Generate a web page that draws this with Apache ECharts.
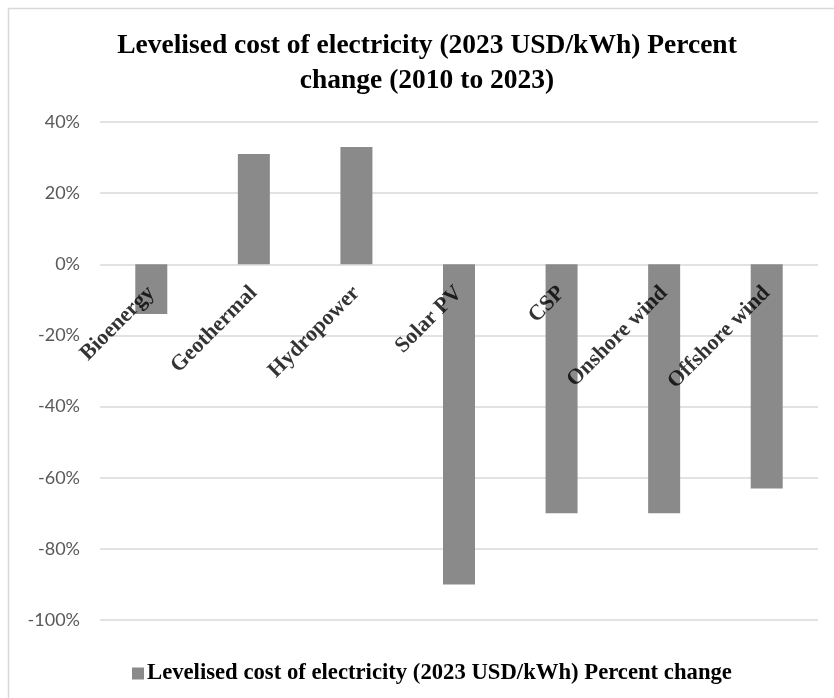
<!DOCTYPE html>
<html>
<head>
<meta charset="utf-8">
<script src="https://cdn.jsdelivr.net/npm/echarts@6/dist/echarts.min.js"></script>
<style>
html,body{margin:0;padding:0;background:#fff;}
#chart{width:834px;height:698px;}
</style>
</head>
<body>
<div id="chart"></div>
<script>
const categories = ['Bioenergy','Geothermal','Hydropower','Solar PV','CSP','Onshore wind','Offshore wind'];
const percentChange = [-14, 31, 33, -90, -70, -70, -63];
const seriesName = 'Levelised cost of electricity (2023 USD/kWh) Percent change';
const titleText = 'Levelised cost of electricity (2023 USD/kWh) Percent\nchange (2010 to 2023)';

const chart = echarts.init(document.getElementById('chart'));
chart.setOption({
  animation: false,
  backgroundColor: '#ffffff',
  graphic: [{
    type: 'rect', z: -10,
    shape: {x: 8.5, y: 8.5, width: 840, height: 700},
    style: {fill: 'none', stroke: '#d9d9d9', lineWidth: 1.5}
  }],
  title: {
    text: titleText,
    left: 422, top: 23, textAlign: 'center',
    textStyle: {fontFamily: 'Liberation Serif', fontWeight: 'bold', fontSize: 27.5, lineHeight: 35, color: '#000'}
  },
  legend: {
    data: [seriesName],
    left: 127, top: 657,
    icon: 'rect', itemWidth: 12, itemHeight: 12, itemGap: 4,
    textStyle: {fontFamily: 'Liberation Serif', fontWeight: 'bold', fontSize: 22.7, color: '#000', padding: [0,0,0,-2]}
  },
  grid: {left: 100, right: 16, top: 122, bottom: 78, containLabel: false, outerBoundsMode: 'none'},
  xAxis: {
    type: 'category',
    data: categories,
    axisLine: {show: false},
    axisTick: {show: false},
    axisLabel: {show: false}
  },
  yAxis: {
    type: 'value',
    min: -100, max: 40, interval: 20,
    axisLine: {show: false},
    axisTick: {show: false},
    splitLine: {lineStyle: {color: '#d9d9d9', width: 1.5}},
    axisLabel: {
      formatter: '{value}%', margin: 20,
      fontFamily: 'Lato', fontSize: 18, color: '#595959'
    }
  },
  series: [{
    name: seriesName,
    type: 'bar',
    data: percentChange,
    barWidth: 32,
    itemStyle: {color: '#8a8a8a'},
    z: 2
  }, {
    name: 'categoryLabels',
    type: 'scatter',
    silent: true,
    z: 5,
    symbolSize: 0,
    data: categories.map(c => [c, 0]),
    label: {
      show: true,
      position: 'inside',
      formatter: p => p.value[0],
      rotate: 45,
      align: 'right',
      verticalAlign: 'middle',
      offset: [-18, 18],
      fontFamily: 'Liberation Serif', fontWeight: 'bold', fontSize: 22, color: '#000'
    }
  }]
});
</script>
</body>
</html>
